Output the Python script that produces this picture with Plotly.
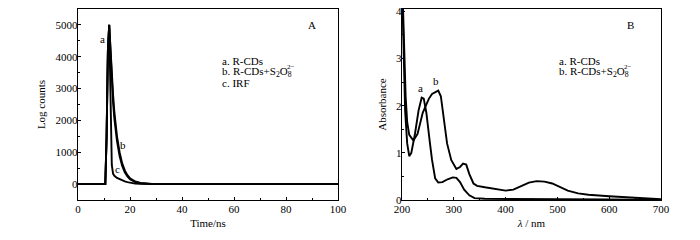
import plotly.graph_objects as go

# ---------------- Panel A : fluorescence decay ----------------
time_ns = [0, 10, 10.5, 11, 11.5, 12, 12.5, 13, 13.5, 14, 15, 16, 17, 18, 19, 20, 22, 24, 26, 28, 30, 40, 100]
counts_a = [0, 0, 0, 1500, 4200, 5000, 4050, 3200, 2550, 2050, 1350, 880, 570, 370, 240, 155, 65, 25, 10, 3, 0, 0, 0]
counts_b = [0, 0, 0, 1500, 4200, 5000, 4150, 3400, 2800, 2250, 1500, 1000, 650, 430, 280, 185, 80, 35, 15, 5, 0, 0, 0]
counts_c = [0, 0, 0, 1500, 4200, 5000, 3000, 600, 320, 260, 195, 150, 112, 82, 60, 42, 16, 5, 0, 0, 0, 0, 0]

# ---------------- Panel B : UV-vis absorbance ----------------
wl_a = [200, 203, 206, 210, 214, 218, 225, 232, 238, 242, 247, 254, 258, 264, 270, 278, 288, 298, 305, 312,
        320, 330, 340, 360, 400, 500, 600, 700]
abs_a = [4.6, 3.0, 1.9, 1.2, 0.93, 1.0, 1.4, 1.9, 2.17, 2.15, 1.85, 1.2, 0.85, 0.46, 0.37, 0.38, 0.44, 0.48,
         0.47, 0.38, 0.22, 0.1, 0.04, 0.025, 0.02, 0.02, 0.01, 0.0]
wl_b = [200, 204, 207, 210, 214, 222, 230, 240, 246, 252, 258, 265, 270, 275, 280, 287, 295, 305, 312, 318,
        324, 330, 338, 345, 360, 380, 400, 415, 430, 445, 460, 475, 490, 505, 520, 540, 560, 600, 650, 700]
abs_b = [4.8, 3.3, 2.2, 1.65, 1.38, 1.26, 1.4, 1.85, 2.02, 2.15, 2.25, 2.3, 2.32, 2.2, 1.8, 1.2, 0.85, 0.66,
         0.7, 0.77, 0.75, 0.55, 0.35, 0.3, 0.27, 0.23, 0.2, 0.22, 0.3, 0.37, 0.4, 0.39, 0.35, 0.27, 0.2, 0.14,
         0.11, 0.08, 0.05, 0.015]

x_ticks_a = [0, 20, 40, 60, 80, 100]
y_ticks_a = [0, 1000, 2000, 3000, 4000, 5000]
x_ticks_b = [200, 300, 400, 500, 600, 700]
y_ticks_b = [0, 1, 2, 3, 4]

FONT = "Liberation Serif, Times New Roman, serif"
W, H = 700, 240


def px(x):
    return x / W


def py(y):
    return 1 - y / H


line = dict(color="black", width=1.9)
fig = go.Figure()
fig.add_trace(go.Scatter(x=time_ns, y=counts_c, mode="lines", line=line, xaxis="x", yaxis="y", name="c"))
fig.add_trace(go.Scatter(x=time_ns, y=counts_a, mode="lines", line=line, xaxis="x", yaxis="y", name="a"))
fig.add_trace(go.Scatter(x=time_ns, y=counts_b, mode="lines", line=line, xaxis="x", yaxis="y", name="b"))
fig.add_trace(go.Scatter(x=wl_a, y=abs_a, mode="lines", line=line, xaxis="x2", yaxis="y2", name="a"))
fig.add_trace(go.Scatter(x=wl_b, y=abs_b, mode="lines", line=line, xaxis="x2", yaxis="y2", name="b"))

axis_common = dict(
    showline=True, linecolor="black", linewidth=1.3, mirror=True,
    ticks="inside", ticklen=3, tickwidth=1, tickcolor="black",
    showgrid=False, zeroline=False, automargin=False, ticklabeloverflow="allow",
    tickfont=dict(family=FONT, size=11, color="black"),
    title_font=dict(family=FONT, size=11, color="black"),
)

fig.update_layout(
    width=W, height=H,
    margin=dict(l=0, r=0, t=0, b=0, autoexpand=False),
    paper_bgcolor="white", plot_bgcolor="white",
    showlegend=False,
    font=dict(family=FONT, size=11, color="black"),
    xaxis=dict(domain=[px(78), px(338)], range=[0, 100], tickvals=x_ticks_a, ticklabelstandoff=-2,
               minor=dict(dtick=10, tick0=0, ticks="inside", ticklen=2, tickcolor="black"),
               title=dict(text="Time/ns", standoff=5), anchor="y", **axis_common),
    yaxis=dict(domain=[py(200), py(9)], range=[-500, 5500], tickvals=y_ticks_a, ticklabelstandoff=-3,
               minor=dict(dtick=500, tick0=0, ticks="inside", ticklen=2, tickcolor="black"),
               title=dict(text="Log counts", standoff=7), anchor="x", **axis_common),
    xaxis2=dict(domain=[px(402), px(661)], range=[200, 700], tickvals=x_ticks_b, ticklabelstandoff=-2,
                minor=dict(dtick=50, tick0=200, ticks="inside", ticklen=2, tickcolor="black"),
                title=dict(text="<i>λ</i> / nm", standoff=5), anchor="y2", **axis_common),
    yaxis2=dict(domain=[py(200), py(9)], range=[0, 4.05], tickvals=y_ticks_b, ticklabelstandoff=-3,
                minor=dict(dtick=0.5, tick0=0, ticks="inside", ticklen=2, tickcolor="black"),
                title=dict(text="Absorbance", standoff=7), anchor="x2", **axis_common),
)


def note(x, y, text, size=11, xanchor="left"):
    fig.add_annotation(x=px(x), y=py(y), xref="paper", yref="paper", text=text, showarrow=False,
                       xanchor=xanchor, yanchor="middle",
                       font=dict(family=FONT, size=size, color="black"))


# Panel A texts
note(312, 25, "A", xanchor="center")
note(220, 61, "a. R-CDs")
note(220, 72, "b. R-CDs+S<sub>2</sub>O<sub>8</sub>")
note(285, 67, "2−", size=7)
note(220, 83, "c. IRF")
note(103, 39, "a", xanchor="center")
note(123, 145, "b", xanchor="center")
note(117, 169, "c", xanchor="center")

# Panel B texts
note(630, 25, "B", xanchor="center")
note(557, 61, "a. R-CDs")
note(557, 72, "b. R-CDs+S<sub>2</sub>O<sub>8</sub>")
note(622, 67, "2−", size=7)
note(420, 88, "a", xanchor="center")
note(436, 81, "b", xanchor="center")

fig.write_html("out.html",
               config={"displayModeBar": False, "staticPlot": True},
               post_script="document.body.style.margin='0';document.body.style.overflow='hidden';")
